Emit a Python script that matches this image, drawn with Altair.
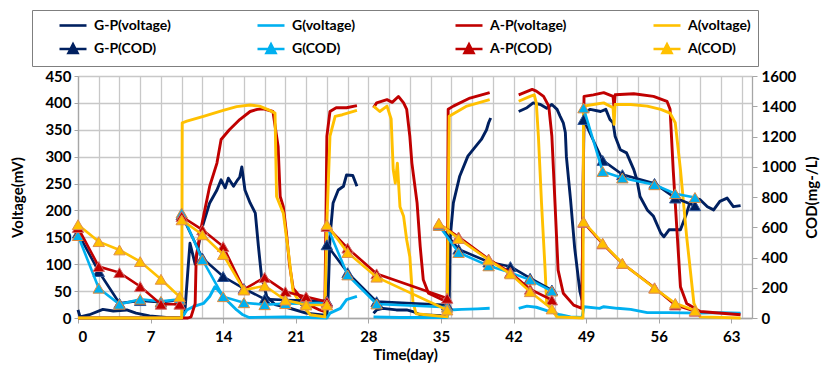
import altair as alt
import pandas as pd

FONT = "Lato"

NAVY = "#002060"
CYAN = "#00B0F0"
RED = "#C00000"
GOLD = "#FFC000"

# ---------------- voltage series (None = gap in the record) ----------------
GP_V_DAY = [0, 0.2, 1.1, 2.4, 3.4, 4.7, 5.6, 6.9, 8.5, 10.0, 10.3, 10.6, 10.8, 11.3, 11.9, 12.7, 13.4, 13.8, 14.2,
            14.5, 15.0, 15.4, 15.6, 15.8, 16.1, 16.6, 17.1, 17.4, 17.7, 18.2, 19.0, 20.1, 22.0, 23.8, 24.0, 24.1,
            24.3, 24.6, 25.1, 25.6, 25.9, 26.5, 26.9, None,
            28.5, 28.8, 29.4, 30.7, 31.7, 32.3, 33.0, 35.6, 35.8, 35.9, 36.2, 36.8, 37.6, 38.1, 38.9, 39.4, 39.6,
            39.8, None,
            42.5, 43.3, 43.9, 44.6, 45.2, 45.7, 46.2, 46.5, 46.8, 47.0, 47.1, 47.5, 47.9, 48.4, 48.6, 48.8, 49.4,
            50.4, 50.9, 51.3, 51.6, 51.8, 52.3, 52.9, 53.6, 53.9, 54.2, 54.9, 55.5, 56.2, 56.5, 57.0, 57.6, 58.1,
            58.7, 59.0, 59.5, 60.0, 60.7, 61.3, 61.9, 62.6, 63.2, 63.9]
GP_V_MV = [15, 2, 6, 16, 13, 15, 9, 4, 1, 0, 10, 89, 139, 100, 164, 214, 238, 257, 242,
           260, 245, 257, 262, 281, 238, 214, 195, 133, 77, 40, 25, 20, 9, 5, 4, 27,
           151, 214, 238, 245, 266, 265, 245, None,
           9, 15, 18, 15, 15, 12, 6, 4, 30, 151, 214, 263, 301, 313, 332, 350, 363,
           372, None,
           384, 391, 400, 397, 390, 397, 388, 375, 363, 345, 300, 220, 130, 50, 34, 381, 388,
           384, 388, 369, 363, 338, 313, 307, 276, 257, 226, 201, 189, 158, 151, 164, 164, 164,
           195, 214, 223, 220, 207, 201, 217, 223, 207, 209]

G_V_DAY = [0, 10.0, 10.5, 11.1, 12.1, 12.7, 13.2, 13.5, 14.3, 15.3, 15.9, 16.5, 20.0, 24.0, 24.3, 25.3, 25.9,
           26.9, None,
           28.5, 31.0, 35.6, 35.8, 37.0, 38.5, 39.7, None,
           42.5, 43.3, 44.2, 45.5, 46.5, 47.5, 48.6, 48.8, 50.3, 50.7, 52.0, 53.3, 54.9, 57.0, 60.0, 62.0, 63.9]
G_V_MV = [0, 0, 15, 21, 27, 40, 58, 52, 34, 15, 6, 1, 2, 0, 9, 18, 34,
          40, None,
          2, 1, 1, 15, 16, 17, 18, None,
          18, 22, 20, 12, 6, 2, 1, 21, 18, 21, 18, 16, 10, 10, 9, 10, 9]

AP_V_DAY = [0, 10.6, 10.9, 11.3, 11.4, 11.9, 12.7, 13.4, 13.8, 14.6, 15.6, 16.6, 17.3, 17.9, 18.8, 19.3, 19.5,
            19.8, 20.1, 20.4, 20.75, 21.4, 22.0, 23.3, 23.8, 23.9, 24.0, 24.3, 24.9, 25.9, 26.9, None,
            28.5, 28.8, 29.8, 30.3, 30.9, 31.4, 31.7, 32.0, 32.2, 32.7, 33.0, 33.3, 33.8, 35.6, 35.7, 36.2, 37.8,
            39.7, None,
            42.5, 43.8, 44.2, 44.9, 45.4, 45.7, 46.0, 46.3, 46.8, 47.8, 48.6, 48.8, 49.7, 50.7, 51.6, 51.7, 51.8,
            53.6, 55.5, 56.8, 57.1, 57.4, 57.8, 58.1, 58.7, 60.0, 63.9]
AP_V_MV = [0, 0, 2, 27, 114, 170, 245, 288, 332, 350, 369, 384, 388, 389, 384, 319, 226,
           207, 158, 99, 55, 40, 27, 15, 12, 164, 338, 384, 391, 391, 395, None,
           391, 400, 406, 401, 412, 400, 388, 338, 288, 214, 133, 71, 46, 30, 388, 394, 409,
           419, None,
           415, 425, 422, 412, 394, 338, 214, 89, 46, 24, 18, 412, 415, 419, 412, 390, 415,
           417, 412, 403, 388, 276, 151, 58, 27, 12, 6]

A_V_DAY = [0, 10.0, 10.05, 10.5, 12.1, 14.0, 15.3, 16.6, 17.5, 18.5, 19.0, 19.15, 19.4, 19.8, 20.3, 20.75,
           21.2, 22.4, 23.8, 24.0, 24.3, 24.8, 25.5, 26.9, None,
           28.5, 29.1, 29.8, 30.2, 30.4, 30.6, 30.8, 31.05, 31.4, 31.7, 32.0, 32.3, 32.6, 35.6, 35.8, 37.5,
           39.7, None,
           42.5, 43.6, 44.0, 44.2, 44.4, 44.7, 45.05, 45.2, 46.2, 48.7, 48.75, 49.7, 50.7, 51.6, 51.7, 51.8,
           53.3, 54.9, 56.2, 57.1, 57.6, 58.1, 58.7, 59.4, 60.0, 63.9]
A_V_MV = [0, 0, 363, 366, 375, 386, 393, 396, 394, 386, 381, 226, 214, 195, 121, 48,
          35, 6, 2, 176, 338, 375, 378, 386, None,
          394, 384, 394, 370, 276, 251, 288, 207, 189, 145, 114, 30, 8, 2, 375, 394,
          406, None,
          403, 412, 415, 400, 338, 214, 89, 27, 2, 0, 394, 397, 400, 391, 360, 397,
          397, 394, 388, 381, 363, 276, 151, 27, 2, 0]

# ---------------- COD series (None = new feeding cycle) ----------------
COD_DAY = [0, 2, 4, 6, 8, 9.8, None,
           10, 12, 14, 16, 18, 20, 22, 24, None,
           24, 26, 28.8, 35.6, None,
           34.8, 36.7, 39.6, 41.7, 43.6, 45.7, None,
           48.75, 50.6, 52.5, 55.6, 57.6, 59.5]
GP_COD = [561, 307, 97, 115, 105, 120, None,
          682, 396, 274, 195, 125, 119, 115, 112, None,
          484, 300, 108, 86, None,
          615, 455, 370, 340, 263, 185, None,
          1312, 1042, 948, 890, 793, 742]
G_COD = [545, 197, 91, 124, 110, 124, None,
         694, 385, 141, 101, 88, 95, 97, 100, None,
         610, 285, 93, 71, None,
         612, 433, 345, 300, 252, 178, None,
         1389, 969, 926, 881, 822, 797]
AP_COD = [598, 340, 300, 208, 91, 91, None,
          671, 583, 472, 190, 268, 174, 141, 108, None,
          605, 462, 292, 130, None,
          622, 536, 390, 300, 190, 119, None,
          632, 490, 360, 200, 86, 45]
A_COD = [617, 505, 450, 373, 256, 141, None,
         649, 550, 420, 185, 213, 119, 86, 86, None,
         617, 433, 270, 53, None,
         627, 525, 384, 292, 174, 60, None,
         638, 495, 362, 197, 97, 49]

V_NAMES = ["G-P(voltage)", "G(voltage)", "A-P(voltage)", "A(voltage)"]
C_NAMES = ["G-P(COD)", "G(COD)", "A-P(COD)", "A(COD)"]
COLORS = [NAVY, CYAN, RED, GOLD]
EDGE = ["#2F5597", "#E08A3C", "#D06A6A", "#E0904C"]


def table(days, vals, name):
    rows, seg, k = [], 0, 0
    for d, v in zip(days, vals):
        if d is None or v is None:
            seg += 1
            continue
        rows.append({"day": d, "val": v, "seg": seg, "series": name, "k": k})
        k += 1
    return pd.DataFrame(rows)


x_vals = sorted(set(range(0, 65, 2)) | set(range(0, 64, 7)))
x_axis = alt.Axis(
    values=x_vals, title="Time(day)",
    labelExpr="datum.value % 7 === 0 ? datum.label : ''",
    grid=True, gridColor="#C8C8C8", gridWidth=1.3,
    gridOpacity={"condition": {"test": "datum.value % 2 === 0", "value": 1}, "value": 0},
    tickOpacity={"condition": {"test": "datum.value % 7 === 0", "value": 1}, "value": 0},
    tickColor="#A6A6A6", tickSize=5, domainColor="#A6A6A6", domainWidth=1.3,
    labelFont=FONT, labelFontSize=15, labelFontWeight="bold", labelColor="#000000", labelPadding=6,
    titleFont=FONT, titleFontSize=15, titleFontWeight="bold", titleColor="#000000", titlePadding=3,
    titleX=327,
)
x_enc = alt.X("day:Q", scale=alt.Scale(domain=[0, 65], nice=False, zero=False), axis=x_axis)

left_axis = alt.Axis(
    values=list(range(0, 451, 50)), title="Voltage(mV)", grid=True, gridColor="#C8C8C8", gridWidth=1.3,
    domainColor="#A6A6A6", domainWidth=1.3, tickColor="#A6A6A6", tickSize=4,
    labelFont=FONT, labelFontSize=15, labelFontWeight="bold", labelColor="#000000", labelPadding=3,
    titleFont=FONT, titleFontSize=15, titleFontWeight="bold", titleColor="#000000", titlePadding=19,
)
right_axis = alt.Axis(
    values=list(range(0, 1601, 200)), title="COD(mg-/L)", orient="right", grid=False, format="d",
    domainColor="#A6A6A6", domainWidth=1.3, tickColor="#A6A6A6", tickSize=5,
    labelFont=FONT, labelFontSize=15, labelFontWeight="bold", labelColor="#000000", labelPadding=4,
    titleFont=FONT, titleFontSize=15, titleFontWeight="bold", titleColor="#000000", titlePadding=24,
    titleAngle=270,
)
yv = alt.Y("val:Q", scale=alt.Scale(domain=[0, 450], nice=False), axis=left_axis)
yc = alt.Y("val:Q", scale=alt.Scale(domain=[0, 1600], nice=False), axis=right_axis)

volt_data = [(GP_V_DAY, GP_V_MV), (G_V_DAY, G_V_MV), (AP_V_DAY, AP_V_MV), (A_V_DAY, A_V_MV)]
cod_data = [GP_COD, G_COD, AP_COD, A_COD]

volt_layers = []
for (d, v), name, col in zip(volt_data, V_NAMES, COLORS):
    volt_layers.append(
        alt.Chart(table(d, v, name)).mark_line(color=col, strokeWidth=2.9, strokeJoin="round")
        .encode(x=x_enc, y=yv, detail="seg:N", order="k:Q")
    )

cod_layers = []
for vals, name, col, edge in zip(cod_data, C_NAMES, COLORS, EDGE):
    df = table(COD_DAY, vals, name)
    base = alt.Chart(df).encode(x=x_enc, y=yc)
    cod_layers.append(base.mark_line(color=col, strokeWidth=2.6).encode(detail="seg:N", order="k:Q"))
    cod_layers.append(base.mark_point(shape="triangle-up", filled=True, size=130, fill=col,
                                      stroke=edge, strokeWidth=1, opacity=1))

ALL_NAMES = V_NAMES + C_NAMES
LINE_PATH = "M-2.7,0L2.7,0"
TRI_PATH = "M-2.7,0L2.7,0M-0.9,0.8L0,-0.95L0.9,0.8Z"
SHAPES = [LINE_PATH] * 4 + [TRI_PATH] * 4

leg = alt.Legend(
    title=None, orient="none", legendX=-46, legendY=-66, columns=4, direction="horizontal",
    gridAlign="all", columnPadding=66, rowPadding=5, padding=7, strokeColor="#7F7F7F",
    symbolSize=100, symbolStrokeWidth=2.6, symbolOpacity=1, symbolOffset=27, labelOffset=14,
    labelFont=FONT, labelFontSize=14, labelFontWeight="bold", labelColor="#000000", labelLimit=0,
)
legend_layer = alt.Chart(pd.DataFrame({"series": ALL_NAMES})).mark_point(filled=True, opacity=0).encode(
    x=alt.value(0), y=alt.value(0),
    fill=alt.Fill("series:N", scale=alt.Scale(domain=ALL_NAMES, range=COLORS + COLORS), legend=leg),
    stroke=alt.Stroke("series:N", scale=alt.Scale(domain=ALL_NAMES, range=COLORS + COLORS), legend=leg),
    shape=alt.Shape("series:N", scale=alt.Scale(domain=ALL_NAMES, range=SHAPES), legend=leg),
)

chart = alt.layer(
    alt.layer(*volt_layers),
    alt.layer(*cod_layers),
    legend_layer,
).resolve_scale(y="independent").properties(
    width=674, height=242,
    autosize=alt.AutoSizeParams(type="none"),
    padding={"left": 70, "top": 68, "right": 74, "bottom": 47},
).configure_view(stroke=None).configure(background="#FFFFFF")

chart.save("out.html", embed_options={"renderer": "svg", "actions": False})
